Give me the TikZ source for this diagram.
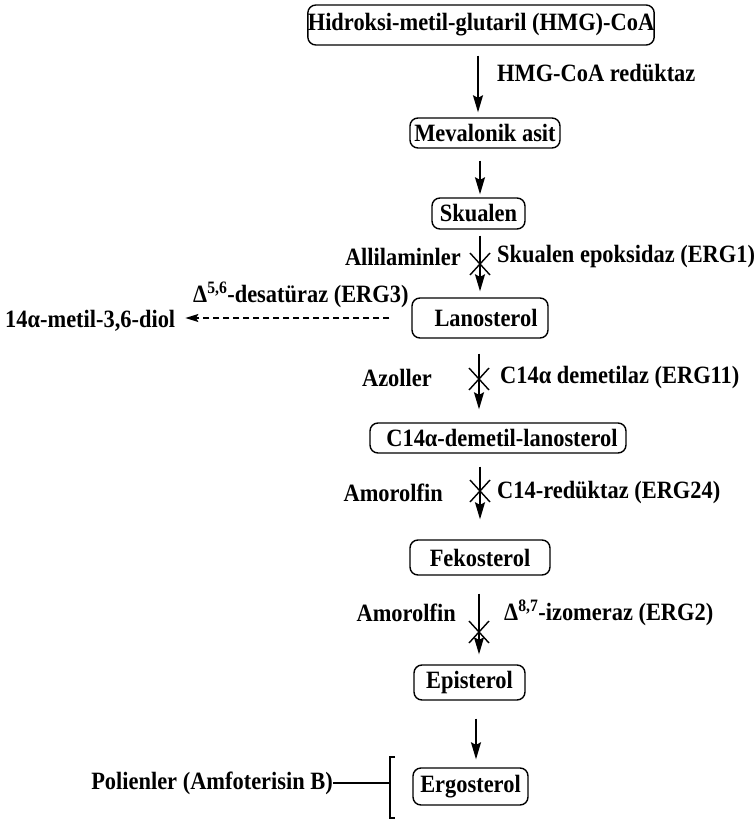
\documentclass[tikz,border=0pt]{standalone}
\usepackage{fontspec}
\setmainfont{Liberation Serif}[FakeStretch=0.9]
\usetikzlibrary{arrows.meta}
\begin{document}
\begin{tikzpicture}[x=1bp,y=-1bp,
  every node/.style={font=\bfseries\fontsize{25}{29}\selectfont, inner sep=0pt},
  box/.style={draw, line width=1.4bp, rounded corners=8bp, inner sep=0pt},
  arr/.style={line width=1.4bp, -{Stealth[length=17bp,width=10bp,inset=2.5bp]}},
  dasharr/.style={line width=1.1bp, dash pattern=on 6bp off 4bp, -{Stealth[length=13bp,width=8bp,inset=2.5bp]}},
  crossline/.style={line width=1.4bp},
  plain/.style={line width=1.4bp}]
\useasboundingbox (0,0) rectangle (755,822);

% boxes
\node[box, minimum width=342bp, minimum height=40bp] (hmg) at (481,25) {Hidroksi-metil-glutaril (HMG)-CoA};
\node[box, minimum width=150bp, minimum height=30bp] (mev) at (485,133) {Mevalonik asit};
\node[box, minimum width=93bp, minimum height=31bp] (sk) at (478.5,213.5) {Skualen};
\node[box, minimum width=136bp, minimum height=40bp] (lan) at (480,318) {\hspace{12bp}Lanosterol};
\node[box, minimum width=256bp, minimum height=30bp] (c14) at (498,438) {\hspace{8bp}C14α-demetil-lanosterol};
\node[box, minimum width=140bp, minimum height=35bp] (fek) at (480,557.5) {Fekosterol};
\node[box, minimum width=111bp, minimum height=35bp] (epi) at (469.5,682.5) {Episterol};
\node[box, minimum width=115bp, minimum height=37bp] (erg) at (470.5,786.5) {Ergosterol};

% arrow x positions
\coordinate (x1) at (478,0);
\coordinate (x2) at (480,0);
\coordinate (x3) at (480,0);
\coordinate (x4) at (479,0);
\coordinate (x5) at (480,0);
\coordinate (x6) at (479,0);
\coordinate (x7) at (476,0);

\draw[arr, shorten <=10bp, shorten >=5bp] (hmg.south -| x1) -- (mev.north -| x1);
\draw[arr, shorten <=12bp, shorten >=3bp] (mev.south -| x2) -- (sk.north -| x2);
\draw[arr, shorten <=6bp, shorten >=6bp] (sk.south -| x3) -- (lan.north -| x3);
\draw[arr, shorten <=15bp, shorten >=13bp] (lan.south -| x4) -- (c14.north -| x4);
\draw[arr, shorten <=13bp, shorten >=20bp] (c14.south -| x5) -- (fek.north -| x5);
\draw[arr, shorten <=18bp, shorten >=10bp] (fek.south -| x6) -- (epi.north -| x6);
\draw[arr, shorten <=18bp, shorten >=8bp] (epi.south -| x7) -- (erg.north -| x7);

% crosses
\coordinate (k3) at (480,264);
\coordinate (k4) at (479,379);
\coordinate (k5) at (480,491);
\coordinate (k6) at (479,632);
\foreach \k in {k3,k4,k5,k6}{
  \draw[crossline] ([shift={(-10,-11)}]\k) -- ([shift={(10,11)}]\k);
  \draw[crossline] ([shift={(10,-11)}]\k) -- ([shift={(-10,11)}]\k);
}

% labels
\node[anchor=west] (l1) at (497,73) {HMG-CoA redüktaz};
\node[anchor=east] (l2a) at (461,257) {Allilaminler};
\node[anchor=west] (l2b) at (497,257) {Skualen epoksidaz (ERG1)};
\node[anchor=west] (l3) at (193,295) {Δ\textsuperscript{5,6}-desatüraz (ERG3)};
\node[anchor=west] (diol) at (5,321) {14α-metil-3,6-diol};
\node[anchor=east] (l4a) at (432,378) {Azoller};
\node[anchor=west] (l4b) at (500,378) {C14α demetilaz (ERG11)};
\node[anchor=east] (l5a) at (443,493) {Amorolfin};
\node[anchor=west] (l5b) at (497,493) {C14-redüktaz (ERG24)};
\node[anchor=east] (l6a) at (456,613) {Amorolfin};
\node[anchor=west] (l6b) at (504,613) {Δ\textsuperscript{8,7}-izomeraz (ERG2)};
\node[anchor=east] (pol) at (333,783) {Polienler (Amfoterisin B)};

% dashed arrow
\draw[dasharr, shorten <=22bp, shorten >=10bp] (lan.west) -- (lan.west -| diol.east);

% bracket
\coordinate (bt) at (390,757);
\coordinate (bb) at (390,818);
\draw[plain] ([xshift=5bp]bt) -- (bt) -- (bb) -- ([xshift=5bp]bb);
\draw[plain] (pol.east) -- (pol.east -| bt);
\end{tikzpicture}
\end{document}
